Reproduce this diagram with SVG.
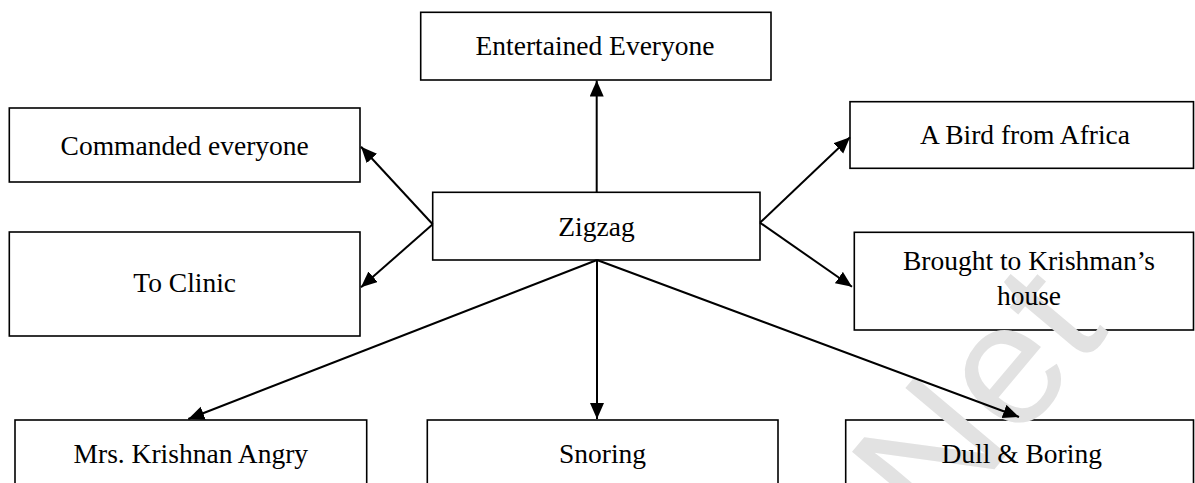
<svg xmlns="http://www.w3.org/2000/svg" width="1195" height="483" viewBox="0 0 1195 483">
<style>
.box{fill:#fff;stroke:#000;stroke-width:1.6}
.lbl{font-family:"Liberation Serif","Times New Roman",serif;font-size:27.5px;fill:#000;text-anchor:middle}
.con{fill:none;stroke:#000;stroke-width:2}
.wm{font-family:"Liberation Sans",Arial,sans-serif;font-size:175px;fill:#e2e2e2}
</style>
<defs>
<marker id="ah" markerUnits="userSpaceOnUse" markerWidth="17" markerHeight="15" refX="16" refY="7" orient="auto">
<path d="M0,0 L16,7 L0,14 z" fill="#000"/>
</marker>
</defs>
<rect width="1195" height="483" fill="#fff"/>
<g id="node-entertained"><rect class="box" x="420.7" y="12.3" width="350.3" height="67.7"/><text class="lbl" x="595" y="55">Entertained Everyone</text></g>
<g id="node-commanded"><rect class="box" x="9.3" y="108" width="350.7" height="74"/><text class="lbl" x="184.7" y="154.5">Commanded everyone</text></g>
<g id="node-clinic"><rect class="box" x="9.3" y="232" width="350.7" height="104"/><text class="lbl" x="184.7" y="292">To Clinic</text></g>
<g id="node-zigzag"><rect class="box" x="432.7" y="192.3" width="327.3" height="67.7"/><text class="lbl" x="596.5" y="235.5">Zigzag</text></g>
<g id="node-bird"><rect class="box" x="850" y="101.7" width="343.5" height="66.6"/><text class="lbl" x="1025" y="144">A Bird from Africa</text></g>
<g id="node-brought"><rect class="box" x="854.3" y="232.3" width="339.2" height="97.7"/></g>
<g id="node-mrs"><rect class="box" x="15" y="420" width="351.7" height="80"/><text class="lbl" x="190.8" y="463">Mrs. Krishnan Angry</text></g>
<g id="node-snoring"><rect class="box" x="427.3" y="420" width="350.7" height="80"/><text class="lbl" x="602.5" y="463">Snoring</text></g>
<g id="node-dull"><rect class="box" x="845.7" y="420" width="347.8" height="80"/></g>
<text class="wm" transform="translate(935,540) rotate(-50)">Net</text>
<g id="node-labels-front">
<text class="lbl" x="1029" y="270">Brought to Krishman’s</text><text class="lbl" x="1029" y="305">house</text>
<text class="lbl" x="1021.7" y="463">Dull &amp; Boring</text>
</g>
<g id="connectors">
<path class="con" marker-end="url(#ah)" d="M596.7,192.3 L596.7,80.5"/>
<path class="con" marker-end="url(#ah)" d="M432.7,224.3 L361,146.7"/>
<path class="con" marker-end="url(#ah)" d="M432.7,224.3 L361,287.3"/>
<path class="con" marker-end="url(#ah)" d="M760,222.7 L850,137.3"/>
<path class="con" marker-end="url(#ah)" d="M760,222.7 L852,286.7"/>
<path class="con" marker-end="url(#ah)" d="M597,260 L188.3,419"/>
<path class="con" marker-end="url(#ah)" d="M597,260 L597,419"/>
<path class="con" marker-end="url(#ah)" d="M597,260 L1019,417"/>
</g>
</svg>
